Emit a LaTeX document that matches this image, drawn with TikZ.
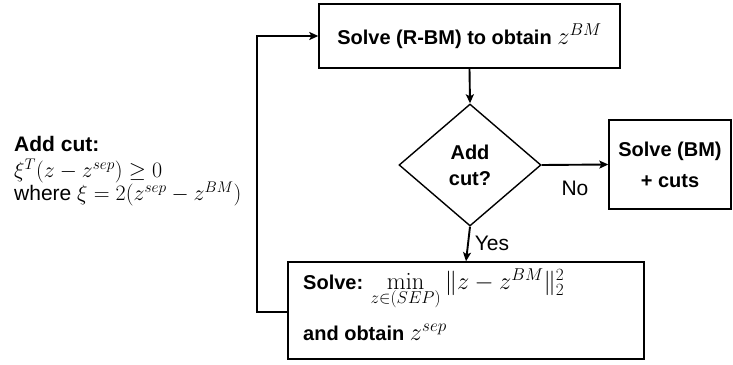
\RequirePackage{fix-cm}
\documentclass[tikz,border=0pt]{standalone}
\usepackage[no-math]{fontspec}
\setmainfont{Liberation Sans}
\usetikzlibrary{shapes.geometric,arrows.meta}
\newcommand\mth[2][24.5]{{\fontsize{#1}{#1}\selectfont$#2$}}
\begin{document}
\begin{tikzpicture}[x=1pt,y=-1pt,
  box/.style={draw=black,line width=1.4pt,rectangle,inner sep=0pt},
  conn/.style={line width=1.9pt,-{Stealth[length=9pt,width=8pt,inset=2pt]}},
  big/.style={font=\fontsize{20}{24}\selectfont\bfseries},
  lbl/.style={font=\fontsize{21}{23}\selectfont}]
\useasboundingbox (0,0) rectangle (733,364);
\node[box,minimum width=301pt,minimum height=64pt,big] (top) at (469.5,36) {Solve (R-BM) to obtain \mth{z^{BM}}};
\node[draw=black,line width=1.4pt,diamond,aspect=1.164,minimum width=142pt,minimum height=122pt,inner sep=0pt,big,align=center] (dec) at (470,165) {Add\\[2pt]cut?};
\node[box,minimum width=122pt,minimum height=89pt,big,align=center] (bm) at (670,164.5) {Solve (BM)\\[7pt]+ cuts};
\node[box,minimum width=356pt,minimum height=97pt] (sep) at (466,310.5) {};
\node[big,anchor=base west,inner sep=0pt] (sepa) at (303,289) {Solve: \mth{\min\limits_{z\in(SEP)}\|z-z^{BM}\|_2^2}};
\node[big,anchor=base west,inner sep=0pt] (sepb) at (303,340) {and obtain \mth{z^{sep}}};
\node[lbl,anchor=base west,inner sep=0pt] (cut1) at (14,151) {\textbf{Add cut:}};
\node[lbl,anchor=base west,inner sep=0pt] (cut2) at (14,177) {\mth[22]{\xi^T(z-z^{sep})\geq 0}};
\node[lbl,anchor=base west,inner sep=0pt] (cut3) at (14,200) {where \mth[22]{\xi=2(z^{sep}-z^{BM})}};
\node[lbl,inner sep=0pt] (no) at (575,188) {No};
\node[lbl,inner sep=0pt] (yes) at (492,243) {Yes};
\coordinate (lc) at (257,312);
\draw[conn] (top.south) -- (dec.north);
\draw[conn] (dec.east) -- (bm.west);
\draw[conn] (dec.south) -- (sep.north);
\draw[conn] (sep.west |- lc) -- (lc) |- (top.west);
\end{tikzpicture}
\end{document}
